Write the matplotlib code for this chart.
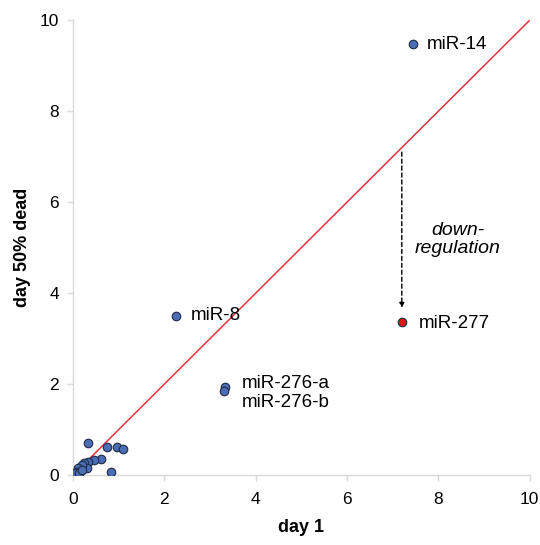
import matplotlib
matplotlib.use("Agg")
import matplotlib.pyplot as plt

plt.rcParams['font.family'] = ['Liberation Sans', 'DejaVu Sans']

# cluster of unlabeled miRNAs (day 1, day 50% dead)
cluster_x = [0.33, 0.74, 0.97, 1.10, 0.84, 0.62, 0.47, 0.33, 0.24, 0.30, 0.19, 0.12, 0.08, 0.04, 0.14, 0.21]
cluster_y = [0.70, 0.61, 0.62, 0.57, 0.07, 0.35, 0.33, 0.29, 0.27, 0.15, 0.22, 0.15, 0.07, 0.04, 0.04, 0.11]

# labeled miRNAs
labeled_names = ["miR-14", "miR-8", "miR-276-a", "miR-276-b"]
labeled_x = [7.45, 2.25, 3.32, 3.30]
labeled_y = [9.47, 3.50, 1.93, 1.85]

down_name = "miR-277"
down_x = 7.20
down_y = 3.36

fig = plt.figure(figsize=(5.40, 5.45), dpi=100)
ax = fig.add_axes([0.135, 0.128, 0.846, 0.835])

blue = "#4a6db5"
edge = "#1f2a44"
ms = 38

ax.plot([0, 10], [0, 10], color="#e8323c", lw=1.1, zorder=1)
ax.scatter(cluster_x, cluster_y, s=ms, c=blue, edgecolors=edge, linewidths=0.8, zorder=3)
ax.scatter(labeled_x, labeled_y, s=ms, c=blue, edgecolors=edge, linewidths=0.8, zorder=3)
ax.scatter([down_x], [down_y], s=ms, c="#d7191c", edgecolors=edge, linewidths=0.8, zorder=3)

fs = 13.5
ax.text(7.75, 9.47, labeled_names[0], fontsize=fs, va="center", ha="left")
ax.text(2.58, 3.50, labeled_names[1], fontsize=fs, va="center", ha="left")
ax.text(3.70, 2.02, labeled_names[2], fontsize=fs, va="center", ha="left")
ax.text(3.70, 1.60, labeled_names[3], fontsize=fs, va="center", ha="left")
ax.text(7.57, 3.33, down_name, fontsize=fs, va="center", ha="left")

ax.annotate("", xy=(7.2, 3.68), xytext=(7.2, 7.1),
            arrowprops=dict(arrowstyle="-|>", linestyle=(0, (3, 2)), color="black",
                            lw=1.0, mutation_scale=7, shrinkA=0, shrinkB=0))
ax.text(8.42, 5.18, "down-\nregulation", fontsize=14, style="italic",
        ha="center", va="center", linespacing=1.15)

ax.set_xlim(0, 10)
ax.set_ylim(0, 10)
ax.set_xticks([0, 2, 4, 6, 8, 10])
ax.set_yticks([0, 2, 4, 6, 8, 10])
for s in ["top", "right"]:
    ax.spines[s].set_visible(False)
for s in ["left", "bottom"]:
    ax.spines[s].set_color("#d9d9d9")
    ax.spines[s].set_linewidth(1.0)
ax.tick_params(axis="both", colors="#d9d9d9", labelcolor="black", labelsize=12.5,
               length=4, direction="out", width=1.0)
ax.tick_params(axis="x", pad=8)
ax.tick_params(axis="y", pad=6)
ax.set_xlabel("day 1", fontsize=13, fontweight="bold", labelpad=9)
ax.set_ylabel("day 50% dead", fontsize=13, fontweight="bold", labelpad=6)

fig.savefig("out.png", dpi=100)
